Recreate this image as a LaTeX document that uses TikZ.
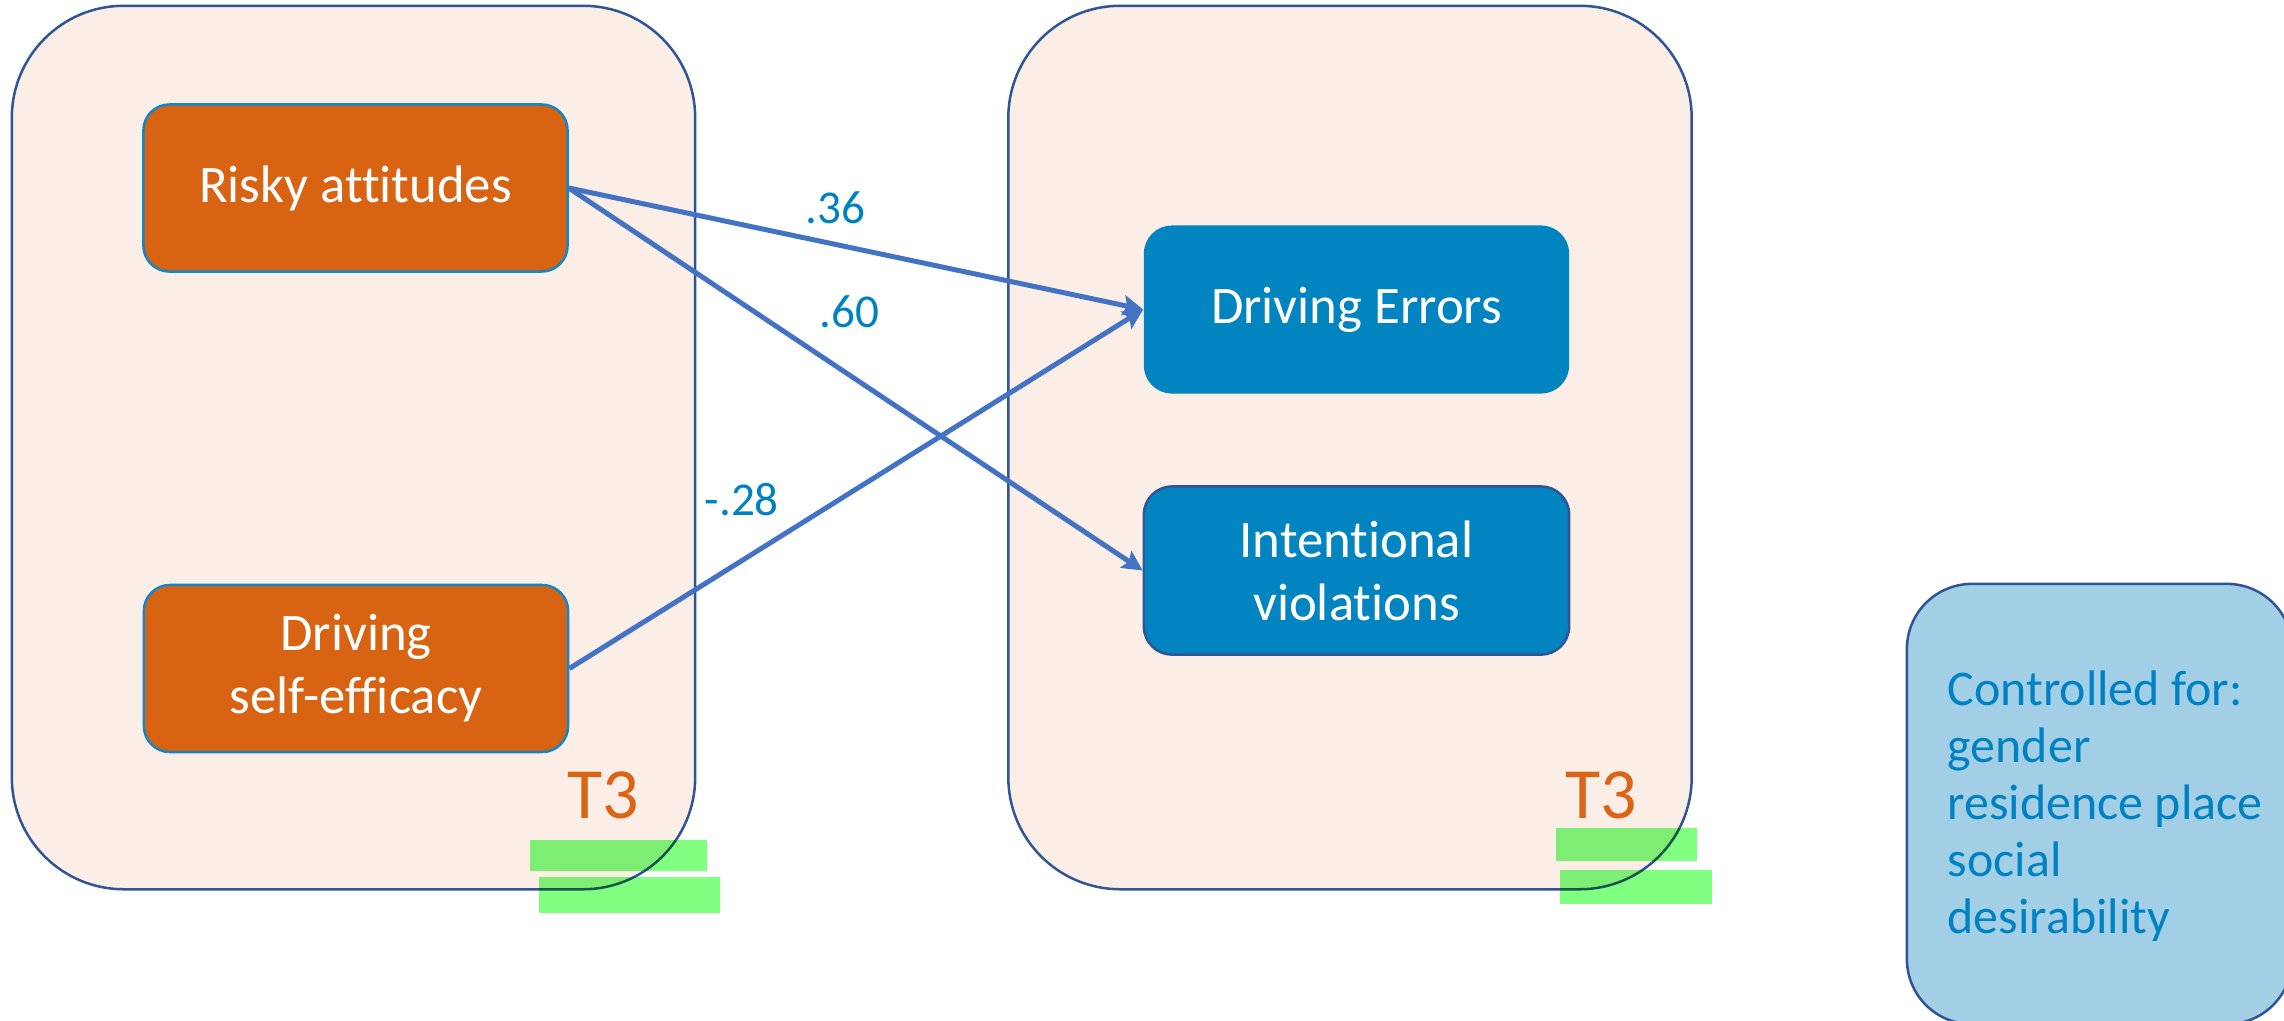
\documentclass[tikz,border=0pt]{standalone}
\usepackage{fontspec}
\setmainfont{Carlito}[Ligatures=NoCommon]
\usetikzlibrary{arrows.meta}
\definecolor{peach}{HTML}{FBEEE6}
\definecolor{frameblue}{HTML}{2F5597}
\definecolor{orangebox}{HTML}{D86312}
\definecolor{orangeedge}{HTML}{1187C8}
\definecolor{bluebox}{HTML}{0284C0}
\definecolor{arrowblue}{HTML}{4472C4}
\definecolor{labelblue}{HTML}{0082C2}
\definecolor{tlabel}{HTML}{DC6416}
\definecolor{ctrlfill}{HTML}{A2CFE5}
\definecolor{hlgreen}{HTML}{80FF80}
\begin{document}
\begin{tikzpicture}[x=0.01cm,y=-0.01cm,
  bigbox/.style={draw=frameblue, line width=0.25mm, fill=peach, rounded corners=1.12cm,
    minimum width=6.83cm, minimum height=8.83cm, inner sep=0pt},
  predbox/.style={draw=orangeedge, line width=0.25mm, fill=orangebox, rounded corners=0.26cm,
    minimum width=4.24cm, minimum height=1.67cm, inner sep=0pt, text=white, align=center,
    font=\fontsize{15pt}{17.9pt}\selectfont},
  outbox/.style={fill=bluebox, rounded corners=0.28cm,
    minimum width=4.25cm, minimum height=1.68cm, inner sep=0pt, text=white, align=center,
    font=\fontsize{15pt}{17.9pt}\selectfont},
  arr/.style={draw=arrowblue, line width=0.5mm, -{Stealth[length=2mm, width=2mm, inset=0.35mm]}},
  coef/.style={text=labelblue, inner sep=0pt, anchor=base west, font=\fontsize{13.4pt}{16pt}\selectfont},
  tlab/.style={text=tlabel, inner sep=0pt, anchor=base, font=\fontsize{20.5pt}{24pt}\selectfont},
  hl/.style={fill=hlgreen, blend mode=multiply}
]
\useasboundingbox (0,0) rectangle (2284,1020);
\clip (0,0) rectangle (2284,1020);

% group frames
\node[bigbox] (leftframe) at (353.5,447.5) {};
\node[bigbox] (rightframe) at (1350,447.5) {};

% predictors
\node[predbox] (risky) at (355.5,188) {Risky attitudes};
\node[predbox] (selfeff) at (356,668.5) {Driving\\self-efficacy};

% outcomes
\node[outbox] (errors) at (1356.5,309.5) {Driving Errors};
\node[outbox, draw=frameblue, line width=0.25mm] (viol) at (1356.5,570.5) {Intentional\\violations};

% paths
\draw[arr] (risky.east) -- (errors.west);
\draw[arr] (risky.east) -- (viol.west);
\draw[arr] (selfeff.east) -- (errors.west);

% coefficients
\node[coef] (c36) at (805,223) {.36};
\node[coef] (c60) at (819,327) {.60};
\node[coef] (c28) at (704,515) {-.28};

% time labels
\node[tlab] (tleft) at (603,818) {T3};
\node[tlab] (tright) at (1601,818) {T3};

% controls box
\node[draw=frameblue, line width=0.25mm, fill=ctrlfill, rounded corners=0.65cm,
  minimum width=3.85cm, minimum height=4.4cm, inner sep=0pt] (ctrl) at (2099.5,804) {};
\node[text=labelblue, inner sep=0pt, anchor=base west, align=left,
  font=\fontsize{14.2pt}{16.2pt}\selectfont] (ctrltext) at (1947,933)
  {Controlled for:\\gender\\residence place\\social\\desirability};

% green highlights
\fill[hl] (530,840) rectangle (707,871);
\fill[hl] (539,877) rectangle (720,913);
\fill[hl] (1556,828) rectangle (1697,861);
\fill[hl] (1560,870) rectangle (1712,904);
\end{tikzpicture}
\end{document}
